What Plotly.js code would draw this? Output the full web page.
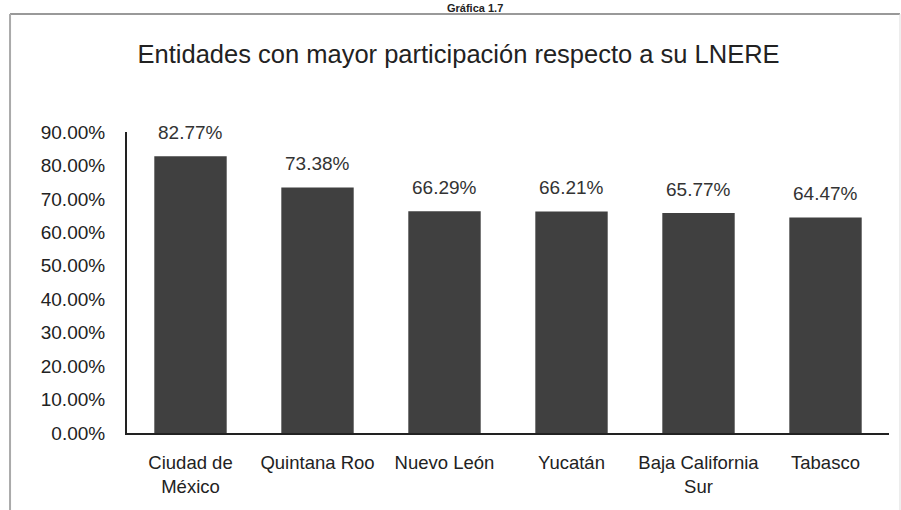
<!DOCTYPE html>
<html>
<head>
<meta charset="utf-8">
<script src="https://cdn.plot.ly/plotly-3.0.1.min.js"></script>
<style>
html,body{margin:0;padding:0;background:#fff;}
#chart{width:901px;height:510px;}
</style>
</head>
<body>
<div id="chart"></div>
<script>
const categories = ["Ciudad de<br>México", "Quintana Roo", "Nuevo León", "Yucatán", "Baja California<br>Sur", "Tabasco"];
const values = [82.77, 73.38, 66.29, 66.21, 65.77, 64.47];
const yTickValues = [0, 10, 20, 30, 40, 50, 60, 70, 80, 90];
const yTickLabels = ["0.00%", "10.00%", "20.00%", "30.00%", "40.00%", "50.00%", "60.00%", "70.00%", "80.00%", "90.00%"];

const FONT = "'Liberation Sans Narrow', 'Arial Narrow', 'Liberation Sans', Arial, sans-serif";
const xIdx = categories.map((c, i) => i);

const trace = {
  type: 'bar',
  x: xIdx,
  y: values,
  marker: {color: '#404040', line: {width: 0}},
  hoverinfo: 'none'
};

const annotations = values.map((v, i) => ({
  x: i, y: v, xref: 'x', yref: 'y',
  text: v.toFixed(2) + '%',
  showarrow: false, yanchor: 'middle', yshift: 24,
  font: {family: FONT, size: 19, color: '#333'}
}));
annotations.push({
  xref: 'paper', yref: 'paper', x: 0.457, y: 1, yshift: 124,
  text: '<b>Gráfica 1.7</b>', showarrow: false, yanchor: 'middle',
  font: {family: FONT, size: 11, color: '#222'}
});

const layout = {
  width: 901, height: 510,
  margin: {l: 127, r: 12, t: 132, b: 77},
  paper_bgcolor: '#fff', plot_bgcolor: '#fff',
  showlegend: false,
  bargap: 0.43,
  title: {text: 'Entidades con mayor participación respecto a su LNERE', x: 0.509, xanchor: 'center', y: 0.893, yanchor: 'middle',
          font: {family: FONT, size: 25.5, color: '#222'}},
  xaxis: {
    range: [-0.5, 5.5], tickvals: xIdx, ticktext: categories,
    showline: true, linecolor: '#222', linewidth: 2, ticks: '', showgrid: false, zeroline: false,
    ticklabelstandoff: 12,
    tickfont: {family: FONT, size: 18.5, color: '#222'}, fixedrange: true
  },
  yaxis: {
    range: [0, 90], tickvals: yTickValues, ticktext: yTickLabels,
    showline: true, linecolor: '#222', linewidth: 2, ticks: '', showgrid: false, zeroline: false,
    ticklabelstandoff: 16,
    tickfont: {family: FONT, size: 19, color: '#222'}, fixedrange: true
  },
  annotations: annotations,
  shapes: [
    {type: 'line', xref: 'paper', yref: 'paper', x0: -0.1535, x1: 1.0144, y0: 1.392, y1: 1.392, line: {color: '#999', width: 2}},
    {type: 'line', xref: 'paper', yref: 'paper', x0: -0.1535, x1: -0.1535, y0: 1.392, y1: -0.27, line: {color: '#aaa', width: 2}},
    {type: 'line', xref: 'paper', yref: 'paper', x0: 1.0144, x1: 1.0144, y0: 1.392, y1: -0.27, line: {color: '#ddd', width: 1}}
  ]
};

Plotly.newPlot('chart', [trace], layout, {displayModeBar: false, staticPlot: true});
</script>
</body>
</html>
